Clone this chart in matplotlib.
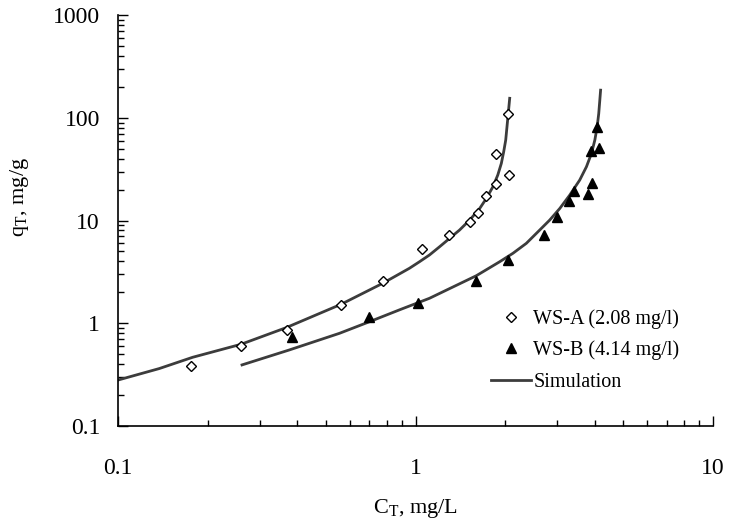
import matplotlib
matplotlib.use('Agg')
import matplotlib.pyplot as plt
from matplotlib.ticker import LogLocator, FuncFormatter, NullFormatter

plt.rcParams['font.family'] = 'Liberation Serif'
plt.rcParams['mathtext.fontset'] = 'custom'
plt.rcParams['mathtext.rm'] = 'Liberation Serif'

# dados medidos
ca_x = [0.176, 0.259, 0.370, 0.562, 0.776, 1.05, 1.30, 1.52, 1.62, 1.73, 1.86, 1.86, 2.06, 2.04]
ca_y = [0.381, 0.605, 0.86, 1.51, 2.6, 5.25, 7.2, 9.6, 11.8, 17.4, 22.7, 44.7, 27.9, 108]

cb_x = [0.385, 0.70, 1.02, 1.60, 2.04, 2.70, 2.98, 3.27, 3.40, 3.79, 3.91, 3.90, 4.13, 4.09]
cb_y = [0.74, 1.16, 1.56, 2.58, 4.13, 7.23, 10.9, 15.4, 19.4, 18.2, 23.0, 47.5, 51.1, 81.9]

# curvas de simulação
sa_x = [0.1, 0.1375, 0.178, 0.259, 0.367, 0.562, 0.776, 0.954, 1.031, 1.114, 1.205, 1.302,
        1.406, 1.52, 1.643, 1.73, 1.82, 1.89, 1.943, 1.979, 2.01, 2.03, 2.05, 2.073]
sa_y = [0.28, 0.362, 0.466, 0.624, 0.905, 1.53, 2.45, 3.43, 3.97, 4.62, 5.56, 6.71,
        8.08, 10.1, 13.1, 16.4, 21.3, 27.7, 36.0, 46.8, 60.7, 81.9, 110, 155]

sb_x = [0.261, 0.376, 0.555, 0.70, 0.883, 1.114, 1.60, 1.918, 2.126, 2.358, 2.615, 2.825,
        3.054, 3.30, 3.565, 3.755, 3.905, 4.007, 4.08, 4.13, 4.165, 4.19]
sb_y = [0.393, 0.549, 0.798, 1.035, 1.35, 1.75, 2.9, 3.97, 4.80, 6.00, 8.08, 10.1,
        13.1, 17.7, 24.8, 33.4, 45.1, 60.7, 81.9, 110, 149, 186]

fig = plt.figure(figsize=(7.29, 5.22), dpi=100)
ax = fig.add_axes([0.162, 0.184, 0.816, 0.787])

ax.plot(ca_x, ca_y, linestyle='none', marker='D', markersize=5.5, markerfacecolor='white',
        markeredgecolor='black', markeredgewidth=1.0, label='WS-A (2.08 mg/l)', zorder=3)
ax.plot(cb_x, cb_y, linestyle='none', marker='^', markersize=7.5, color='black',
        label='WS-B (4.14 mg/l)', zorder=3)
ax.plot(sa_x, sa_y, color='#3c3c3c', linewidth=2.0, label='Simulation')
ax.plot(sb_x, sb_y, color='#3c3c3c', linewidth=2.0)

ax.set_xscale('log')
ax.set_yscale('log')
ax.set_xlim(0.1, 10)
ax.set_ylim(0.1, 1000)

fmt = FuncFormatter(lambda v, p: ('%g' % v))
ax.xaxis.set_major_formatter(fmt)
ax.yaxis.set_major_formatter(fmt)
ax.xaxis.set_minor_formatter(NullFormatter())
ax.yaxis.set_minor_formatter(NullFormatter())
ax.xaxis.set_minor_locator(LogLocator(base=10, subs=range(2, 10)))
ax.yaxis.set_minor_locator(LogLocator(base=10, subs=range(2, 10)))

ax.spines['top'].set_visible(False)
ax.spines['right'].set_visible(False)
ax.spines['left'].set_linewidth(1.2)
ax.spines['bottom'].set_linewidth(1.2)
ax.tick_params(which='both', direction='in', width=1.0, labelsize=17)
ax.tick_params(which='major', length=7)
ax.tick_params(which='minor', length=4.5)
ax.tick_params(axis='y', which='major', pad=13)
ax.tick_params(axis='x', which='major', pad=23)

ax.set_xlabel(r'C$_\mathrm{T}$, mg/L', fontsize=16, labelpad=13)
ax.set_ylabel(r'q$_\mathrm{T}$, mg/g', fontsize=16)
ax.yaxis.set_label_coords(-0.147, 0.557)

ax.legend(loc='upper left', bbox_to_anchor=(0.627, 0.285), frameon=False, fontsize=14.5,
          handlelength=2.0, handletextpad=0.1, labelspacing=0.6, borderpad=0,
          borderaxespad=0)

fig.savefig('out.png', dpi=100)
